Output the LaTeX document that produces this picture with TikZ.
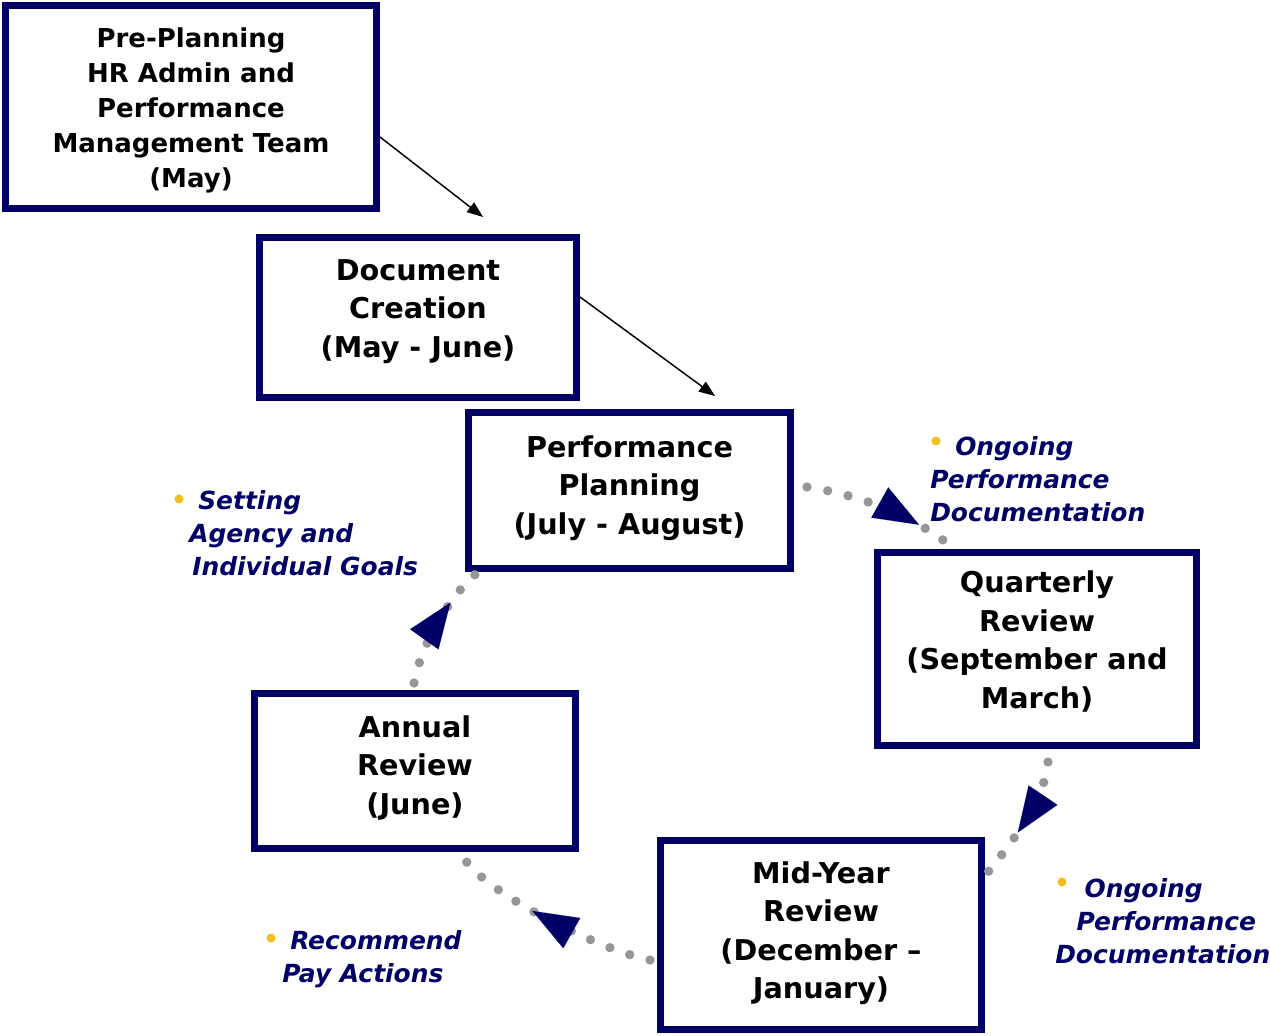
\documentclass[tikz,border=0pt]{standalone}
\usepackage{fontspec}
\setmainfont{DejaVu Sans}
\usetikzlibrary{arrows.meta,decorations.markings}
\definecolor{navy}{RGB}{0,0,102}
\definecolor{dotgray}{RGB}{150,150,150}
\definecolor{bul}{RGB}{240,192,32}
\begin{document}
\begin{tikzpicture}[x=0.75pt,y=-0.75pt,
  box/.style={draw=navy,line width=5.25pt,inner sep=0pt,rectangle},
  boxtext/.style={anchor=base,inner sep=0pt,font=\bfseries\fontsize{21.5pt}{28.875pt}\selectfont},
  lbl/.style={anchor=base west,inner sep=0pt,text=navy,font=\bfseries\itshape\fontsize{18.7pt}{25pt}\selectfont},
  blk/.style={draw=black,line width=1.1pt,-{Triangle[length=12pt,width=9pt]}},
  dots/.style={draw=dotgray,line width=7pt,line cap=round,dash pattern=on 0pt off 15.75pt},
  bigarrow/.style={postaction={decorate,decoration={markings,mark=at position #1 with {\arrow{Triangle[length=33.75pt,width=26pt,color=navy,line width=0.01pt]}}}}},
  bullet/.style={fill=bul}
]
\useasboundingbox (0,0) rectangle (1270,1035);

% boxes
\node[box,minimum width=371*0.75pt,minimum height=203*0.75pt] (b1) at (191,107) {};
\node[box,minimum width=317*0.75pt,minimum height=160*0.75pt] (b2) at (418,317.5) {};
\node[box,minimum width=322*0.75pt,minimum height=156*0.75pt] (b3) at (629.5,490.5) {};
\node[box,minimum width=319*0.75pt,minimum height=193*0.75pt] (b4) at (1037,649) {};
\node[box,minimum width=321*0.75pt,minimum height=189*0.75pt] (b5) at (821,935) {};
\node[box,minimum width=321*0.75pt,minimum height=155*0.75pt] (b6) at (415,771) {};

% box texts
\node[boxtext,font=\bfseries\fontsize{19.5pt}{26.25pt}\selectfont] (t1) at (191,47)
  {\begin{tabular}[t]{@{}c@{}}Pre-Planning\\HR Admin and\\Performance\\Management Team\\(May)\end{tabular}};
\node[boxtext] (t2) at (418,280)
  {\begin{tabular}[t]{@{}c@{}}Document\\Creation\\(May - June)\end{tabular}};
\node[boxtext] (t3) at (629.5,457)
  {\begin{tabular}[t]{@{}c@{}}Performance\\Planning\\(July - August)\end{tabular}};
\node[boxtext] (t4) at (1037,592.5)
  {\begin{tabular}[t]{@{}c@{}}Quarterly\\Review\\(September and\\March)\end{tabular}};
\node[boxtext] (t5) at (821,883)
  {\begin{tabular}[t]{@{}c@{}}Mid-Year\\Review\\(December –\\January)\end{tabular}};
\node[boxtext] (t6) at (415,737)
  {\begin{tabular}[t]{@{}c@{}}Annual\\Review\\(June)\end{tabular}};

% thin black arrows
\coordinate (e1) at (483,217);
\coordinate (e2) at (715,396);
\draw[blk] ([shift={(0,30)}]b1.east) -- (e1);
\draw[blk] ([shift={(0,-20.5)}]b2.east) -- (e2);

% dotted cycle connectors
\draw[dots,bigarrow=0.78] ([shift={(13,-3.5)}]b3.east) .. controls +(53,8) and +(-37,-28) .. ([shift={(-90,-6)}]b4.north);
\draw[dots,bigarrow=0.61] ([shift={(11,13)}]b4.south) .. controls +(-3,38) and +(22,-27) .. ([shift={(3,35)}]b5.north east);
\draw[dots,bigarrow=0.6] ([shift={(-7,25)}]b5.west) .. controls +(-40,-7) and +(30,40) .. ([shift={(50,8)}]b6.south);
\draw[dots,bigarrow=0.69] ([shift={(-1,-7)}]b6.north) .. controls +(7,-38) and +(-27,22) .. ([shift={(12,1)}]b3.south west);

% labels
\fill[bullet] (936,441) circle[radius=3.4pt];
\node[lbl] (l1) at (930,455)
  {\begin{tabular}[t]{@{}l@{}}\hspace*{18.75pt}Ongoing\\Performance\\Documentation\end{tabular}};
\fill[bullet] (179,499) circle[radius=3.4pt];
\node[lbl] (l2) at (188,509)
  {\begin{tabular}[t]{@{}l@{}}\hspace*{7.5pt}Setting\\\hspace*{0.75pt}Agency and\\\hspace*{3pt}Individual Goals\end{tabular}};
\fill[bullet] (271,938) circle[radius=3.4pt];
\node[lbl] (l3) at (282,949)
  {\begin{tabular}[t]{@{}l@{}}\hspace*{6pt}Recommend\\Pay Actions\end{tabular}};
\fill[bullet] (1062,882) circle[radius=3.4pt];
\node[lbl] (l4) at (1055,897)
  {\begin{tabular}[t]{@{}l@{}}\hspace*{22pt}Ongoing\\\hspace*{16pt}Performance\\Documentation\end{tabular}};
\end{tikzpicture}
\end{document}
